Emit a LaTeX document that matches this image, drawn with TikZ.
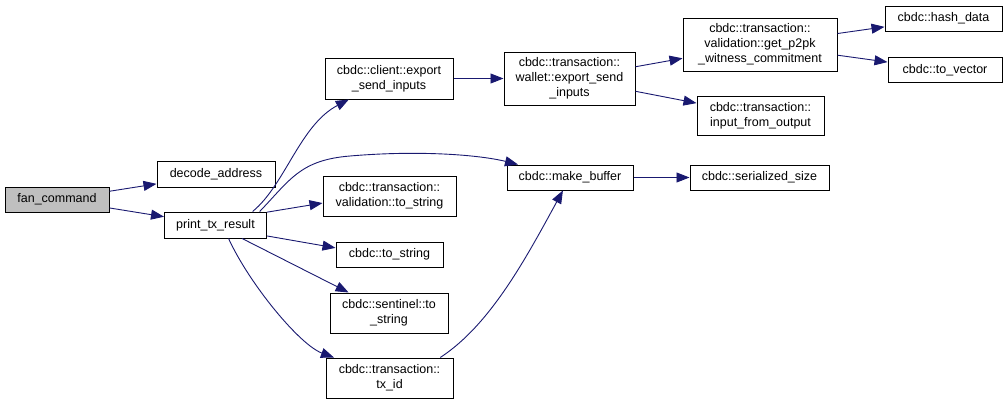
\documentclass[tikz,border=0pt]{standalone}
\usepackage{fontspec}
\setmainfont{Liberation Sans}
\usetikzlibrary{arrows.meta}
\definecolor{midnight}{RGB}{25,25,112}
\definecolor{callergray}{RGB}{191,191,191}
\tikzset{
  fn/.style={draw=black,line width=1pt,fill=white,align=center,inner sep=0pt,
    font=\fontsize{12.5}{15}\selectfont},
  call/.style={midnight,line width=0.9pt,-{Triangle[length=13pt,width=10pt]}}
}

\begin{document}
\begin{tikzpicture}[x=1pt,y=-1pt]
    \useasboundingbox (0,0) rectangle (1007,405);
    \node[fn,fill=callergray,minimum width=104pt,minimum height=25pt] (fan) at (57,199.5) {fan\_command};
    \foreach \n/\x/\y/\w/\h/\t in {
      dec/216/174.5/118/26/decode\_address,
      ptr/215.5/225/102/26/print\_tx\_result,
      cli/389/78.5/128/41/cbdc::client::export\\\_send\_inputs,
      wal/569.5/78.5/131/53/cbdc::transaction::\\wallet::export\_send\\\_inputs,
      gpw/760/44.5/154/53/cbdc::transaction::\\validation::get\_p2pk\\\_witness\_commitment,
      hsh/943.5/18.5/117/25/cbdc::hash\_data,
      vec/945/70/114/25/cbdc::to\_vector,
      ifo/760.5/115.5/127/39/cbdc::transaction::\\input\_from\_output,
      mb/570/177.5/126/25/cbdc::make\_buffer,
      ssz/759.5/177.5/139/25/cbdc::serialized\_size,
      vts/389.5/196/133/40/cbdc::transaction::\\validation::to\_string,
      tos/389.5/254.5/107/25/cbdc::to\_string,
      sts/389/313/118/40/cbdc::sentinel::to\\\_string,
      tx/389.5/378/127/40/cbdc::transaction::\\tx\_id}
    {
      \node[fn,minimum width=\w pt,minimum height=\h pt] (\n) at (\x,\y) {\t};
    }
    \draw[call] (fan) -- (dec);
    \draw[call] (fan) -- (ptr);
    \draw[call] (ptr.20) .. controls (285,185) and (300,125) .. (cli);
    \draw[call] (ptr.17) .. controls (290,180) and (300,160) .. (350,156)
      .. controls (420,150) and (480,155) .. (mb);
    \draw[call] (ptr.14) -- (vts.186);
    \draw[call] (ptr.-12) -- (tos.173);
    \draw[call] (ptr) -- (sts);
    \draw[call] (ptr.-46) .. controls (250,285) and (300,345) .. (tx);
    \draw[call] (tx.22) .. controls (490,325) and (525,260) .. (mb);
    \draw[call] (cli) -- (wal);
    \draw[call] (wal) -- (gpw);
    \draw[call] (wal) -- (ifo);
    \draw[call] (gpw) -- (hsh);
    \draw[call] (gpw) -- (vec);
    \draw[call] (mb) -- (ssz);
\end{tikzpicture}
\end{document}
